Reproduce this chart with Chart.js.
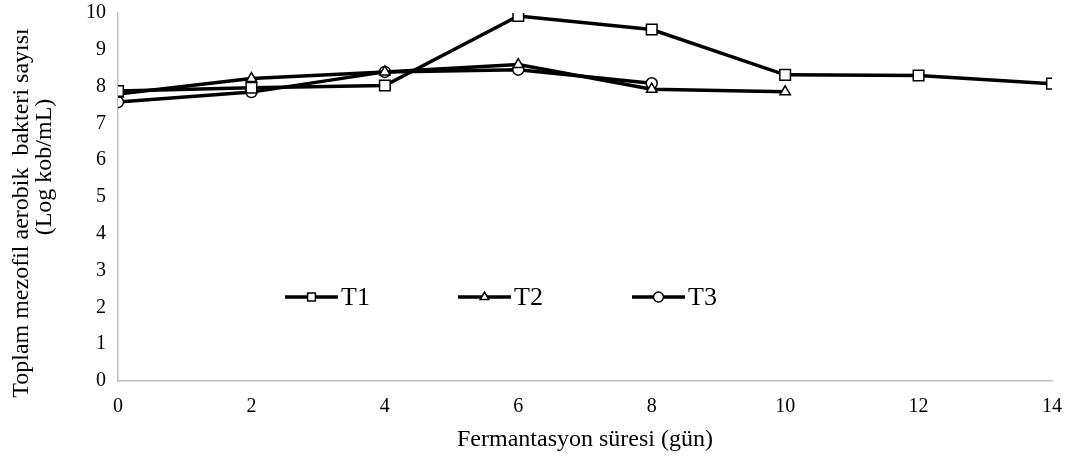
<!DOCTYPE html>
<html lang="tr">
<head>
    <meta charset="UTF-8">
    <title>Toplam mezofil aerobik bakteri sayısı</title>
    <script src="https://cdn.jsdelivr.net/npm/chart.js"></script>
    <style>
        html, body { margin: 0; padding: 0; background: #fff; }
        #wrap { width: 1069px; height: 461px; position: relative; }
    </style>
</head>
<body>
    <div id="wrap"><canvas id="bakteriChart"></canvas></div>
    <script>
        // gün (x) and Log kob/mL values
        const gunler = [0, 2, 4, 6, 8, 10, 12, 14];
        const t1 = [7.88, 7.97, 8.03, 9.92, 9.55, 8.32, 8.30, 8.08];
        const t2 = [7.80, 8.22, 8.40, 8.60, 7.93, 7.86];
        const t3 = [7.58, 7.85, 8.40, 8.46, 8.09];
        const seriesNames = ['T1', 'T2', 'T3'];
        const markers = ['rect', 'triangle', 'circle'];
        const yTicks = [0, 1, 2, 3, 4, 5, 6, 7, 8, 9, 10];
        const yTitle = ['Toplam mezofil aerobik  bakteri sayısı', '(Log kob/mL)'];

        const font = 'Liberation Serif, Times New Roman, serif';
        const toPoints = vals => vals.map((v, i) => ({ x: gunler[i], y: v }));

        // legend drawn inside the plot, one line+marker per series
        const inlineLegend = {
            id: 'inlineLegend',
            afterDraw(chart) {
                const ctx = chart.ctx;
                const startX = [285, 458, 632];
                const y = 297;
                ctx.save();
                chart.data.datasets.forEach((ds, i) => {
                    const x0 = startX[i], x1 = x0 + 53, mid = (x0 + x1) / 2;
                    ctx.strokeStyle = '#000';
                    ctx.lineWidth = 3.5;
                    ctx.beginPath();
                    ctx.moveTo(x0, y);
                    ctx.lineTo(x1, y);
                    ctx.stroke();
                    ctx.lineWidth = 1.5;
                    ctx.fillStyle = '#fff';
                    Chart.helpers.drawPoint(ctx, { pointStyle: ds.pointStyle, radius: i === 0 ? 5.5 : 5, rotation: 0, borderWidth: 1.5 }, mid, y);
                    ctx.fillStyle = '#000';
                    ctx.font = '26px ' + font;
                    ctx.textBaseline = 'middle';
                    ctx.textAlign = 'left';
                    ctx.fillText(ds.label, x1 + 3, y + 1);
                });
                ctx.restore();
            }
        };

        // rotated two-line y title, lines are not centred on each other in the original
        const yTitlePlugin = {
            id: 'yTitlePlugin',
            afterDraw(chart) {
                const ctx = chart.ctx;
                const spots = [[22, 213], [45, 167]];
                ctx.save();
                ctx.fillStyle = '#000';
                ctx.font = '24px ' + font;
                ctx.textAlign = 'center';
                ctx.textBaseline = 'middle';
                yTitle.forEach((line, i) => {
                    ctx.save();
                    ctx.translate(spots[i][0], spots[i][1]);
                    ctx.rotate(-Math.PI / 2);
                    ctx.fillText(line, 0, 0);
                    ctx.restore();
                });
                ctx.restore();
            }
        };

        const ctx = document.getElementById('bakteriChart').getContext('2d');
        new Chart(ctx, {
            type: 'line',
            data: {
                datasets: [t1, t2, t3].map((vals, i) => ({
                    label: seriesNames[i],
                    data: toPoints(vals),
                    borderColor: '#000',
                    borderWidth: 3.5,
                    pointStyle: markers[i],
                    pointRadius: i === 0 ? 7.5 : (i === 1 ? 6 : 5.5),
                    pointBorderWidth: 1.5,
                    pointBorderColor: '#000',
                    pointBackgroundColor: '#fff',
                    tension: 0,
                    fill: false
                }))
            },
            options: {
                responsive: true,
                maintainAspectRatio: false,
                animation: false,
                layout: { padding: { top: 13, right: 17, left: 0, bottom: 0 } },
                plugins: { legend: { display: false }, tooltip: { enabled: false } },
                scales: {
                    x: {
                        type: 'linear',
                        min: 0, max: 14,
                        afterBuildTicks: s => { s.ticks = gunler.map(v => ({ value: v })); },
                        afterFit: s => { s.height = 80; s.paddingLeft = 0; s.paddingRight = 0; },
                        grid: { display: false, drawTicks: false },
                        border: { display: true, color: '#bfbfbf', width: 1.5 },
                        ticks: { color: '#000', font: { family: font, size: 20 }, padding: 14, maxRotation: 0 },
                        title: { display: true, text: 'Fermantasyon süresi (gün)', color: '#000', font: { family: font, size: 24 }, padding: { top: 0, bottom: 7 } }
                    },
                    y: {
                        min: 0, max: 10,
                        afterBuildTicks: s => { s.ticks = yTicks.map(v => ({ value: v })); },
                        afterFit: s => { s.width = 118; s.paddingTop = 0; s.paddingBottom = 0; },
                        grid: { display: false, drawTicks: false },
                        border: { display: true, color: '#bfbfbf', width: 1.5 },
                        ticks: { color: '#000', font: { family: font, size: 20 }, padding: 12 }
                    }
                }
            },
            plugins: [inlineLegend, yTitlePlugin]
        });
    </script>
</body>
</html>
